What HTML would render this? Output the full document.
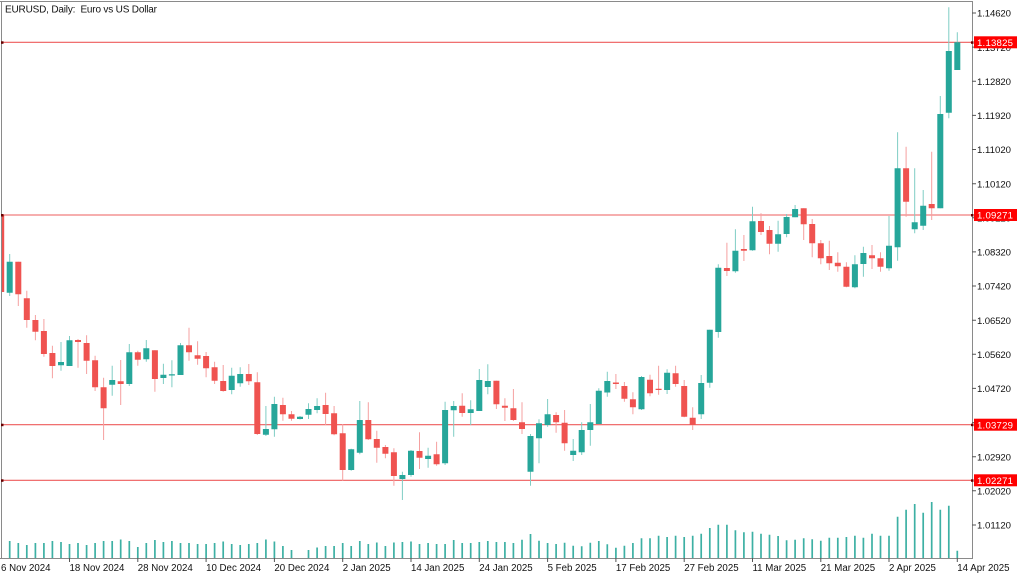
<!DOCTYPE html>
<html><head><meta charset="utf-8"><style>
html,body{margin:0;padding:0;background:#fff;width:1024px;height:576px;overflow:hidden}
svg{display:block}
text{font-family:"Liberation Sans",Arial,sans-serif}
</style></head><body>
<svg width="1024" height="576" viewBox="0 0 1024 576" xmlns="http://www.w3.org/2000/svg">
<defs><clipPath id="pa"><rect x="1.5" y="1.5" width="971" height="557"/></clipPath></defs>
<rect width="1024" height="576" fill="#fff"/>
<g clip-path="url(#pa)">
<!-- horizontal levels -->
<g stroke="#ee5c5c" stroke-width="1.1">
<line x1="0" y1="42.3" x2="972" y2="42.3"/>
<line x1="0" y1="215" x2="972" y2="215"/>
<line x1="0" y1="424.7" x2="972" y2="424.7"/>
<line x1="0" y1="480.3" x2="972" y2="480.3"/>
</g>
<!-- volume -->
<path stroke="#3db0a4" stroke-width="1.7" fill="none" d="M9.7 558V541M18.3 558V543M26.8 558V545M35.4 558V543M43.9 558V543M52.4 558V541M61 558V542M69.5 558V544M78 558V543M86.6 558V545M95.1 558V543M103.6 558V541M112.2 558V541M120.7 558V539.5M129.3 558V541M137.8 558V547M146.3 558V543M154.9 558V540M163.4 558V542M171.9 558V541M180.5 558V543M189 558V543M197.6 558V544M206.1 558V544M214.6 558V543M223.2 558V541.5M231.7 558V544M240.2 558V545M248.8 558V544M257.3 558V543M265.9 558V539.5M274.4 558V541.5M282.9 558V546M291.5 558V550M308.5 558V550M317.1 558V547.5M325.6 558V546M334.1 558V546M342.7 558V543M351.2 558V546M359.8 558V541M368.3 558V544M376.8 558V542.5M385.4 558V546M393.9 558V542.5M402.4 558V542M411 558V541.5M419.5 558V544M428.1 558V543M436.6 558V544M445.1 558V544M453.7 558V540M462.2 558V543M470.7 558V543M479.3 558V542M487.8 558V541M496.4 558V542M504.9 558V542M513.4 558V543M522 558V539.7M530.5 558V534M539 558V540.7M547.6 558V543M556.1 558V544M564.6 558V542.7M573.2 558V545.7M581.7 558V546.3M590.3 558V542.7M598.8 558V541M607.3 558V544.3M615.9 558V547.7M624.4 558V545.7M632.9 558V543M641.5 558V538.3M650 558V538.3M658.6 558V535.7M667.1 558V537M675.6 558V535.7M684.2 558V537M692.7 558V535.7M701.2 558V533.7M709.8 558V528M718.3 558V524.7M726.9 558V524.7M735.4 558V530.3M743.9 558V532.3M752.5 558V531.7M761 558V533.7M769.5 558V534.7M778.1 558V536M786.6 558V540.3M795.1 558V539.7M803.7 558V538.3M812.2 558V539.3M820.8 558V540.7M829.3 558V537.7M837.8 558V537.7M846.4 558V537M854.9 558V535.7M863.4 558V537.7M872 558V533.7M880.5 558V535.7M889 558V535.7M897.6 558V516.7M906.1 558V509.7M914.7 558V504M923.2 558V512.7M931.7 558V502M940.3 558V509.7M948.8 558V505.7M957.3 558V550.7"/>
<!-- teal wicks -->
<path stroke="#7fcdc4" stroke-width="1" fill="none" d="M9.7 254V296M61 342V370.7M69.5 336V366M112.2 365.7V395.7M129.3 344V386M146.3 340V361.7M163.4 363.7V384M171.9 360.3V387.3M180.5 343V375M231.7 367.7V394.3M240.2 367.3V386.7M265.9 406V436M274.4 396.7V436.7M300 416V419.5M308.5 403.3V419M317.1 398.3V413.3M351.2 448.7V470.7M359.8 401V454.3M402.4 471.7V500M411 450V476.7M428.1 447.7V467.7M445.1 401.7V465M453.7 401V436.7M470.7 400.3V425M479.3 369V411M487.8 364.3V394.3M530.5 434V485.7M539 419.3V463.3M547.6 399V426.7M573.2 439V461M581.7 422.3V455M590.3 404V445.7M598.8 388.3V424.3M607.3 371.7V396.7M641.5 376V410M667.1 369.3V394M701.2 375V419M709.8 329.7V387.7M718.3 264.3V337.7M735.4 229.3V272.7M752.5 206.7V250.7M778.1 220.7V251.7M786.6 214V237.3M795.1 205V217.3M854.9 255.3V288.3M863.4 246.7V276.7M889 216V270.7M897.6 132.3V260.7M914.7 168.3V233.3M923.2 190V230M940.3 96V208.3M948.8 7.3V118.3M957.3 32.3V70"/>
<!-- red wicks -->
<path stroke="#f5a0a0" stroke-width="1" fill="none" d="M1.2 212V293M18.3 261.7V306M26.8 290.7V327.7M35.4 315V340.3M43.9 319V356.7M52.4 345.7V378.3M78 339V367.7M86.6 335.3V374M95.1 355.7V391M103.6 377.7V440M120.7 360V405M137.8 350.7V365.7M154.9 350.3V391.7M189 327.7V360.7M197.6 341.3V364.7M206.1 352V377.3M214.6 361.7V384M223.2 365V391.7M248.8 364V385M257.3 372.3V435M282.9 397.7V420.7M291.5 411V420.7M325.6 392.7V425M334.1 406V435.3M342.7 424V480.7M368.3 402.3V440M376.8 430.7V462.7M385.4 445V458.3M393.9 448.3V485.7M419.5 432.3V469M436.6 441.7V465.7M462.2 393.3V416.7M496.4 380.7V409M504.9 398.3V421M513.4 389V421M522 402.3V434M556.1 412.3V432.7M564.6 410V450.7M615.9 374V389M624.4 382V401.7M632.9 392.3V414.3M650 374.7V396.3M658.6 365.7V394.7M675.6 365.7V386.7M684.2 380V417.3M692.7 407.3V430M726.9 242.7V276M743.9 235V261M761 213.3V235M769.5 226V254.3M803.7 208.3V240M812.2 219V257.3M820.8 240V264.3M829.3 240.7V270M837.8 252.3V271.7M846.4 262.3V287.3M872 245V269M880.5 252.3V271.7M906.1 146.7V216.7M931.7 151.7V220"/>
<!-- teal bodies -->
<path fill="#26a69a" d="M6.7 261.7h6V292.7h-6zM58 362h6V365.3h-6zM66.5 340.3h6V366h-6zM109.2 380h6V384.7h-6zM126.3 352.3h6V384h-6zM143.3 348.3h6V359.3h-6zM160.4 374.7h6V378h-6zM168.9 374.3h6V375.5h-6zM177.5 345.3h6V375h-6zM228.7 375.7h6V390h-6zM237.2 374h6V383.3h-6zM262.9 429h6V434.7h-6zM271.4 404h6V429.3h-6zM297 416.7h6V419h-6zM305.5 409h6V414.7h-6zM314.1 406h6V410h-6zM348.2 449.3h6V470h-6zM356.8 420h6V452.7h-6zM399.4 475h6V479h-6zM408 450.7h6V475h-6zM425.1 455.7h6V459h-6zM442.1 410h6V463.3h-6zM450.7 406h6V410.3h-6zM467.7 409.3h6V413h-6zM476.3 380h6V411h-6zM484.8 381h6V387h-6zM527.5 436h6V471.7h-6zM536 423.3h6V438.3h-6zM544.6 414.3h6V425h-6zM570.2 450.7h6V455h-6zM578.7 430h6V452.3h-6zM587.3 422.3h6V430h-6zM595.8 390.7h6V424h-6zM604.3 381h6V392.5h-6zM638.5 377h6V409.3h-6zM664.1 372.7h6V390h-6zM698.2 383h6V414.3h-6zM706.8 329.7h6V382.7h-6zM715.3 267.7h6V332h-6zM732.4 250.7h6V271.3h-6zM749.5 221.3h6V250.3h-6zM775.1 234.3h6V243.7h-6zM783.6 217h6V234h-6zM792.1 209h6V217.3h-6zM851.9 264.3h6V287.3h-6zM860.4 253h6V264h-6zM886 245.7h6V268.3h-6zM894.6 168.3h6V247.3h-6zM911.7 222.3h6V229.3h-6zM920.2 205.7h6V225.7h-6zM937.3 114h6V208.3h-6zM945.8 51h6V112.7h-6zM954.3 42.3h6V70h-6z"/>
<!-- red bodies -->
<path fill="#ef5350" d="M-1.8 215h6V292h-6zM15.3 261.7h6V294.3h-6zM23.8 298.3h6V320h-6zM32.4 320h6V331.7h-6zM40.9 331h6V354h-6zM49.4 353h6V366h-6zM75 340h6V342h-6zM83.6 343h6V360.7h-6zM92.1 360.3h6V387.3h-6zM100.6 387.3h6V408.3h-6zM117.7 381.3h6V384h-6zM134.8 352.3h6V359.7h-6zM151.9 350.3h6V379h-6zM186 345.3h6V352.3h-6zM194.6 355.3h6V358.7h-6zM203.1 356h6V368.3h-6zM211.6 367.3h6V380.7h-6zM220.2 381h6V391h-6zM245.8 374h6V381.3h-6zM254.3 382.3h6V434h-6zM279.9 405h6V414.3h-6zM288.5 414.3h6V418.7h-6zM322.6 405h6V414h-6zM331.1 413.3h6V434.3h-6zM339.7 433.3h6V470h-6zM365.3 420h6V439.3h-6zM373.8 439h6V447.7h-6zM382.4 447h6V453.7h-6zM390.9 452.3h6V476h-6zM416.5 451h6V457.7h-6zM433.6 454.3h6V464.3h-6zM459.2 405.7h6V413h-6zM493.4 380.7h6V404.3h-6zM501.9 405.7h6V407.7h-6zM510.4 408.3h6V420h-6zM519 422.3h6V429h-6zM553.1 415h6V422.3h-6zM561.6 422.7h6V443.3h-6zM612.9 382.5h6V384h-6zM621.4 386h6V398.7h-6zM629.9 399.3h6V407.3h-6zM647 379.7h6V393.3h-6zM655.6 388.7h6V390h-6zM672.6 373.3h6V384h-6zM681.2 386h6V416.7h-6zM689.7 417.7h6V425h-6zM723.9 268h6V271h-6zM740.9 249h6V250.7h-6zM758 221h6V232h-6zM766.5 230h6V243.7h-6zM800.7 208.3h6V224.3h-6zM809.2 224h6V243.3h-6zM817.8 243.3h6V258.3h-6zM826.3 256h6V263.3h-6zM834.8 262.7h6V266.3h-6zM843.4 266.7h6V286.7h-6zM869 255.3h6V258.3h-6zM877.5 258.3h6V266.7h-6zM903.1 168.3h6V201.7h-6zM928.7 204h6V208.3h-6z"/>
</g>
<!-- frame -->
<g stroke="#8a8a8a" stroke-width="1" fill="none" shape-rendering="crispEdges">
<line x1="0" y1="1.5" x2="973" y2="1.5"/>
<line x1="1.5" y1="1" x2="1.5" y2="559"/>
<line x1="972.5" y1="1" x2="972.5" y2="559"/>
<line x1="0" y1="558.5" x2="973" y2="558.5"/>
</g>
<!-- level end markers -->
<g fill="#600">
<rect x="1" y="41.3" width="2.5" height="2.5"/><rect x="1" y="214" width="2.5" height="2.5"/><rect x="1" y="423.7" width="2.5" height="2.5"/><rect x="1" y="479.3" width="2.5" height="2.5"/>
<rect x="971" y="41.3" width="2.5" height="2.5"/><rect x="971" y="214" width="2.5" height="2.5"/><rect x="971" y="423.7" width="2.5" height="2.5"/><rect x="971" y="479.3" width="2.5" height="2.5"/>
</g>
<!-- price axis ticks -->
<path stroke="#555" stroke-width="1" d="M972 13H976M972 47.1H976M972 81.3H976M972 115.4H976M972 149.5H976M972 183.7H976M972 217.8H976M972 251.9H976M972 286H976M972 320.2H976M972 354.3H976M972 388.4H976M972 422.6H976M972 456.7H976M972 490.8H976M972 525H976"/>
<g font-size="9.6" fill="#111">
<text x="977" y="16.7" textLength="34">1.14620</text>
<text x="977" y="50.8" textLength="34">1.13720</text>
<text x="977" y="85" textLength="34">1.12820</text>
<text x="977" y="119.1" textLength="34">1.11920</text>
<text x="977" y="153.2" textLength="34">1.11020</text>
<text x="977" y="187.4" textLength="34">1.10120</text>
<text x="977" y="221.5" textLength="34">1.09220</text>
<text x="977" y="255.6" textLength="34">1.08320</text>
<text x="977" y="289.7" textLength="34">1.07420</text>
<text x="977" y="323.9" textLength="34">1.06520</text>
<text x="977" y="358" textLength="34">1.05620</text>
<text x="977" y="392.1" textLength="34">1.04720</text>
<text x="977" y="426.3" textLength="34">1.03820</text>
<text x="977" y="460.4" textLength="34">1.02920</text>
<text x="977" y="494.5" textLength="34">1.02020</text>
<text x="977" y="528.7" textLength="34">1.01120</text>
</g>
<!-- red price labels -->
<g fill="#ff0000">
<rect x="974" y="36.3" width="43" height="12"/>
<rect x="974" y="209" width="43" height="12"/>
<rect x="974" y="418.7" width="43" height="12"/>
<rect x="974" y="474.3" width="43" height="12"/>
</g>
<g font-size="9.6" fill="#fff">
<text x="977" y="46" textLength="36">1.13825</text>
<text x="977" y="218.7" textLength="36">1.09271</text>
<text x="977" y="428.4" textLength="36">1.03729</text>
<text x="977" y="484" textLength="36">1.02271</text>
</g>
<!-- date ticks -->
<path stroke="#555" stroke-width="1" d="M69.5 558V562M137.8 558V562M206.1 558V562M274.4 558V562M342.7 558V562M411 558V562M479.3 558V562M547.6 558V562M615.9 558V562M684.2 558V562M752.5 558V562M820.8 558V562M889 558V562M957.3 558V562"/>
<g font-size="9.7" fill="#111">
<text x="1" y="571">6 Nov 2024</text>
<text x="69.5" y="571">18 Nov 2024</text>
<text x="137.8" y="571">28 Nov 2024</text>
<text x="206.1" y="571">10 Dec 2024</text>
<text x="274.4" y="571">20 Dec 2024</text>
<text x="342.7" y="571">2 Jan 2025</text>
<text x="411" y="571">14 Jan 2025</text>
<text x="479.3" y="571">24 Jan 2025</text>
<text x="547.6" y="571">5 Feb 2025</text>
<text x="615.9" y="571">17 Feb 2025</text>
<text x="684.2" y="571">27 Feb 2025</text>
<text x="752.5" y="571">11 Mar 2025</text>
<text x="820.8" y="571">21 Mar 2025</text>
<text x="889" y="571">2 Apr 2025</text>
<text x="957.3" y="571">14 Apr 2025</text>
</g>
<text x="5" y="12.5" font-size="10" fill="#111" textLength="152" xml:space="preserve">EURUSD, Daily:  Euro vs US Dollar</text>
</svg>
</body></html>
